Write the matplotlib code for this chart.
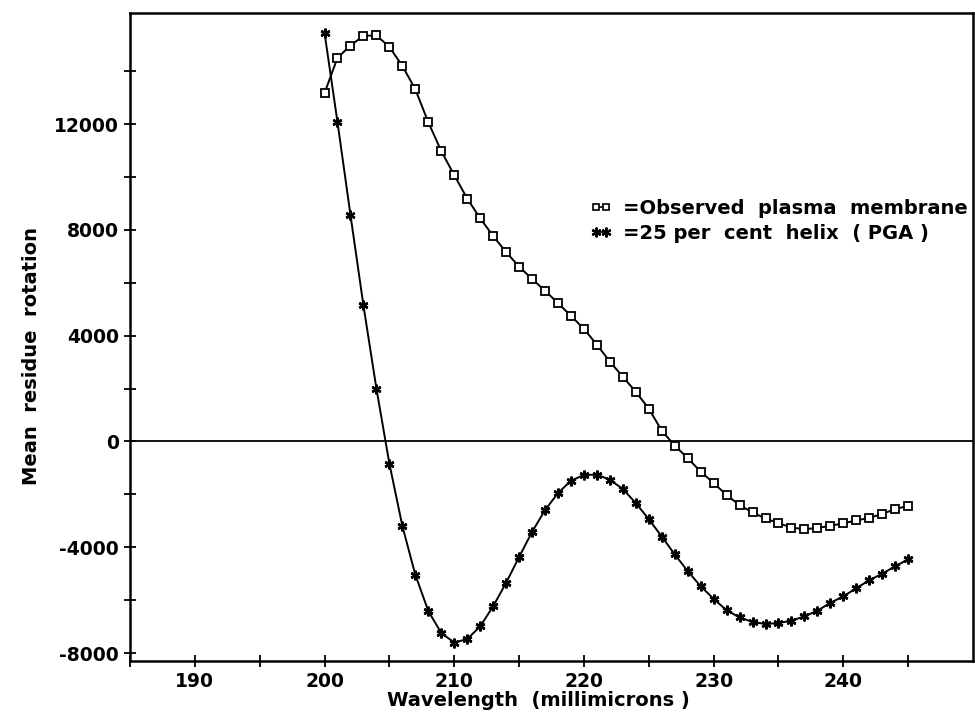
import matplotlib
matplotlib.use("Agg")
import matplotlib.pyplot as plt
from matplotlib.lines import Line2D
from matplotlib.ticker import FixedLocator

wavelength = list(range(200, 246))

observed_membrane = [13175, 14505, 14970, 15340, 15350, 14920, 14200, 13315, 12070, 10980,
                     10070, 9185, 8436, 7770, 7159, 6612, 6145, 5700, 5233, 4750,
                     4256, 3660, 3017, 2447, 1877, 1243, 407, -152, -632, -1140,
                     -1570, -2025, -2405, -2683, -2911, -3089, -3253, -3317, -3268, -3192,
                     -3089, -2987, -2888, -2736, -2557, -2432]

helix_25_pga = [15455, 12073, 8565, 5145, 2003, -836, -3192, -5039, -6407, -7243,
                -7600, -7471, -6992, -6232, -5343, -4370, -3420, -2595, -1949, -1482,
                -1265, -1254, -1444, -1797, -2329, -2937, -3595, -4267, -4902, -5472,
                -5951, -6384, -6650, -6825, -6901, -6863, -6775, -6612, -6395, -6103,
                -5852, -5548, -5244, -5001, -4712, -4457]

label_obs = "=Observed  plasma  membrane"
label_hel = "=25 per  cent  helix  ( PGA )"
xticks = [190, 200, 210, 220, 230, 240]
xminor = [185, 195, 205, 215, 225, 235, 245]
yticks = [-8000, -4000, 0, 4000, 8000, 12000]
yminor = [-6000, -2000, 2000, 6000, 10000, 14000]

plt.rcParams['font.family'] = ['DejaVu Sans']
plt.rcParams['font.weight'] = 'bold'
plt.rcParams['axes.unicode_minus'] = False

fig = plt.figure(figsize=(9.75, 7.15), dpi=100)
ax = fig.add_axes([0.1333, 0.0755, 0.8647, 0.9063])

ax.axhline(0, color='black', lw=1.3, zorder=1)

ax.plot(wavelength, observed_membrane, color='black', lw=1.4, marker='s',
        markersize=5.8, markerfacecolor='white', markeredgecolor='black', mew=1.3)
ax.plot(wavelength, helix_25_pga, color='black', lw=1.4, marker=(6, 2, 0),
        markersize=7, markeredgecolor='black', mew=1.8)

ax.set_xlim(185, 250)
ax.set_ylim(-8300, 16200)
ax.xaxis.set_major_locator(FixedLocator(xticks))
ax.yaxis.set_major_locator(FixedLocator(yticks))
ax.xaxis.set_minor_locator(FixedLocator(xminor))
ax.yaxis.set_minor_locator(FixedLocator(yminor))
ax.tick_params(axis='both', which='major', direction='inout', length=8, width=1.3,
               labelsize=13.5, pad=4)
ax.tick_params(axis='both', which='minor', direction='inout', length=8, width=1.3)
for lab in ax.get_xticklabels() + ax.get_yticklabels():
    lab.set_fontweight('bold')
for s in ax.spines.values():
    s.set_linewidth(1.8)

ax.set_xlabel("Wavelength  (millimicrons )", fontsize=14, fontweight='bold', labelpad=1)
ax.xaxis.set_label_coords(0.485, -0.046)
ax.set_ylabel("Mean  residue  rotation", fontsize=14, fontweight='bold', labelpad=14)
ax.yaxis.set_label_coords(-0.106, 0.47)

h1 = Line2D([], [], color='black', lw=1.2, marker='s', markersize=5,
            markerfacecolor='white', mew=1.2)
h2 = Line2D([], [], color='black', lw=1.2, marker=(6, 2, 0), markersize=7, mew=1.6)
leg = ax.legend([h1, h2], [label_obs, label_hel], loc='upper right',
                bbox_to_anchor=(1.015, 0.74), frameon=False, numpoints=2,
                handlelength=1.1, handletextpad=0.6, labelspacing=0.3,
                prop={'size': 14, 'weight': 'bold'})

fig.savefig("out.png", dpi=100)
